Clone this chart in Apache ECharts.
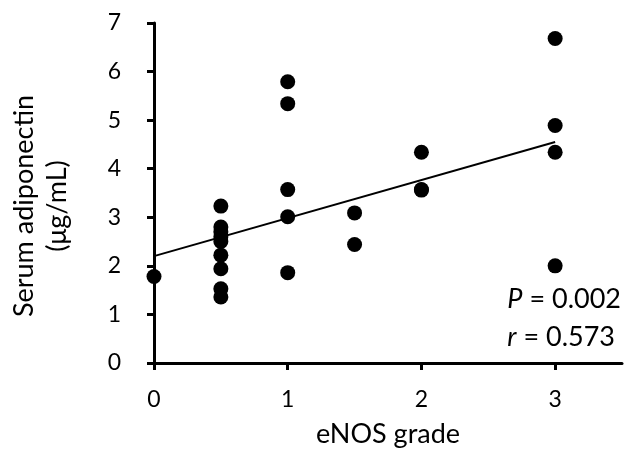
<!DOCTYPE html>
<html><head><meta charset="utf-8">
<script src="https://cdn.jsdelivr.net/npm/echarts@6/dist/echarts.min.js"></script>
<style>html,body{margin:0;padding:0;background:#fff}#c{width:625px;height:461px}</style>
</head><body><div id="c"></div>
<script>
var gradeX = [0, 0.5,0.5,0.5,0.5,0.5,0.5,0.5,0.5,0.5, 1,1,1,1,1, 1.5,1.5, 2,2,2, 3,3,3,3];
var adipoY = [1.78, 3.23,2.80,2.70,2.60,2.50,2.22,1.94,1.53,1.36, 5.79,5.34,3.57,3.01,1.86, 3.09,2.44, 4.34,3.57,3.56, 6.68,4.89,4.34,2.00];
var trendX = [0, 3];
var trendY = [2.20, 4.55];
var xTicks = [0, 1, 2, 3];
var yTicks = [0, 1, 2, 3, 4, 5, 6, 7];
var statsP = '0.002';
var statsR = '0.573';

var FONT = 'Lato';
var chart = echarts.init(document.getElementById('c'));
var pts = gradeX.map(function(x, i){ return [x, adipoY[i]]; });
var line = trendX.map(function(x, i){ return [x, trendY[i]]; });
chart.setOption({
  animation: false,
  textStyle: {fontFamily: FONT},
  grid: {left: 154, right: 3, top: 23, bottom: 98, containLabel: false},
  xAxis: {
    type: 'value', min: 0, max: 3.5, interval: 0.5,
    name: 'eNOS grade', nameLocation: 'middle', nameGap: 58,
    nameTextStyle: {fontFamily: FONT, fontSize: 27, color: '#000'},
    axisLine: {lineStyle: {color: '#000', width: 3}},
    axisTick: {show: true, length: 7, lineStyle: {color: '#000', width: 3},
      customValues: xTicks},
    axisLabel: {fontFamily: FONT, fontSize: 23, color: '#000', margin: 25,
      customValues: xTicks},
    splitLine: {show: false}
  },
  yAxis: {
    type: 'value', min: 0, max: 7, interval: 1,
    axisLine: {show: true, lineStyle: {color: '#000', width: 3}},
    axisTick: {show: true, length: 7, lineStyle: {color: '#000', width: 3}},
    axisLabel: {fontFamily: FONT, fontSize: 23, color: '#000', margin: 33,
      formatter: function(v){ return yTicks.indexOf(v) >= 0 ? String(v) : ''; }},
    splitLine: {show: false}
  },
  graphic: [
    {type: 'text', x: 41, y: 206, rotation: Math.PI/2,
     style: {text: 'Serum adiponectin\n(μg/mL)', font: '27px ' + FONT, fill: '#000',
       align: 'center', verticalAlign: 'middle', lineHeight: 33}},
    {type: 'text', right: 4, top: 286,
     style: {text: '{i|P} = ' + statsP, fill: '#000', font: '27px ' + FONT,
       rich: {i: {fontStyle: 'italic', fontFamily: FONT, fontSize: 27}}}},
    {type: 'text', right: 10, top: 324,
     style: {text: '{i|r} = ' + statsR, fill: '#000', font: '27px ' + FONT,
       rich: {i: {fontStyle: 'italic', fontFamily: FONT, fontSize: 27}}}}
  ],
  series: [
    {type: 'line', data: line, showSymbol: false, symbol: 'none',
     lineStyle: {color: '#000', width: 2}, z: 1},
    {type: 'scatter', data: pts, symbolSize: 15,
     itemStyle: {color: '#000', opacity: 1}, z: 2}
  ]
});
</script></body></html>
